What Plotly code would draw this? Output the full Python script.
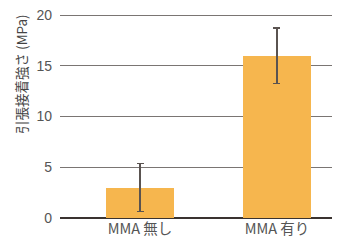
import plotly.graph_objects as go

categories = ["MMA 無し", "MMA 有り"]
values = [3.0, 16.0]
errors = [2.35, 2.75]
y_ticks = [0, 5, 10, 15, 20]
y_title = "引張接着強さ (MPa)"

font_family = "Noto Sans CJK JP, Noto Sans, sans-serif"

fig = go.Figure()
fig.add_trace(go.Bar(
    x=[0, 1],
    y=values,
    width=0.496,
    marker=dict(color="#F6B64E", line=dict(width=0)),
    error_y=dict(type="data", array=errors, visible=True,
                 color="#5a5350", thickness=1.5, width=3.5),
))

# page body has an 8px default margin, so the figure is 8px smaller
fig.update_layout(
    width=332, height=232,
    margin=dict(l=52, r=0, t=1, b=22, autoexpand=False),
    paper_bgcolor="white", plot_bgcolor="white",
    showlegend=False,
    font=dict(family=font_family, color="#555555", size=13),
    bargap=0,
    xaxis=dict(
        range=[-0.584, 1.46], automargin=False,
        tickmode="array", tickvals=[0, 1], ticktext=categories,
        showgrid=False, zeroline=False, showline=False,
        ticks="", ticklabelstandoff=0,
        tickfont=dict(size=14.5, color="#555555"),
    ),
    yaxis=dict(
        range=[0, 20.6], automargin=False,
        tickmode="array", tickvals=y_ticks,
        showgrid=True, gridcolor="#7a7573", gridwidth=1,
        zeroline=True, zerolinecolor="#3a3330", zerolinewidth=1.5,
        showline=False, ticks="",
        ticklabelstandoff=7, ticklabeloverflow="allow",
        tickfont=dict(size=14, color="#555555",
                      family="Liberation Sans, Arial, sans-serif"),
    ),
    annotations=[dict(
        text=y_title, textangle=-90,
        xref="paper", yref="paper",
        x=-0.14, y=0.985, xanchor="center", yanchor="top",
        showarrow=False,
        font=dict(size=13.5, color="#444444", family=font_family),
    )],
)

fig.write_html("out.html")
